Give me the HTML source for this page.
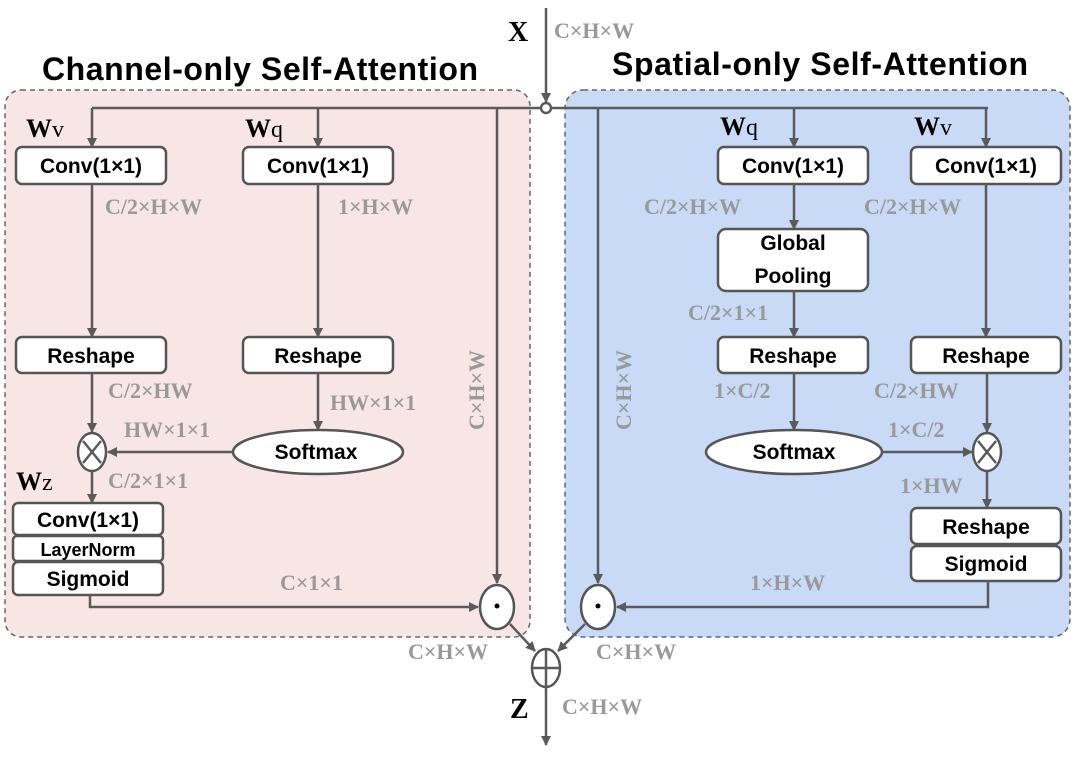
<!DOCTYPE html>
<html><head><meta charset="utf-8"><style>
html,body{margin:0;padding:0;background:#fff}
svg{display:block}
.box{fill:#fff;stroke:#555;stroke-width:2.5}
.bt{font-family:"Liberation Sans",sans-serif;font-weight:bold;font-size:21px;fill:#000;text-anchor:middle}
.g{font-family:"Liberation Serif",serif;font-weight:bold;font-size:22px;fill:#999}
.w{font-family:"Liberation Serif",serif;font-weight:bold;font-size:26px;fill:#000}
.ln{stroke:#5a5a5a;stroke-width:2.5;fill:none}
.t{font-family:"Liberation Sans",sans-serif;font-weight:bold;font-size:32px;fill:#000}
</style></head><body>
<svg width="1075" height="758" viewBox="0 0 1075 758">
<defs><marker id="a" markerWidth="10" markerHeight="10" refX="9" refY="5" orient="auto" markerUnits="userSpaceOnUse"><path d="M0,0 L10,5 L0,10 z" fill="#5a5a5a"/></marker></defs>
<rect x="5" y="90" width="525" height="547" rx="16" fill="#f8e6e6" stroke="#666" stroke-width="1.5" stroke-dasharray="5,4"/>
<rect x="565" y="90" width="505" height="547" rx="18" fill="#c9daf6" stroke="#666" stroke-width="1.5" stroke-dasharray="5,4"/>
<text class="t" x="42" y="80" textLength="436">Channel-only Self-Attention</text>
<text class="t" x="612" y="75" textLength="416">Spatial-only Self-Attention</text>
<text class="w" x="508" y="41" style="font-size:28px">X</text>
<text class="g" x="554" y="38">C×H×W</text>
<line class="ln" x1="546" y1="8" x2="546" y2="102" marker-end="url(#a)"/>
<line class="ln" x1="92" y1="108" x2="988" y2="108"/>
<circle cx="546" cy="108" r="5" fill="#fff" stroke="#5a5a5a" stroke-width="2.5"/>
<!-- left -->
<line class="ln" x1="92" y1="108" x2="92" y2="147" marker-end="url(#a)"/>
<line class="ln" x1="318" y1="108" x2="318" y2="147" marker-end="url(#a)"/>
<text class="w" x="26" y="137">W<tspan style="font-weight:normal;font-size:24px">v</tspan></text>
<text class="w" x="245" y="137">W<tspan style="font-weight:normal;font-size:24px">q</tspan></text>
<rect class="box" x="16" y="147" width="150" height="37" rx="6"/><text class="bt" x="91" y="173">Conv(1×1)</text>
<rect class="box" x="243" y="147" width="150" height="37" rx="6"/><text class="bt" x="318" y="173">Conv(1×1)</text>
<line class="ln" x1="92" y1="184" x2="92" y2="337" marker-end="url(#a)"/>
<line class="ln" x1="318" y1="184" x2="318" y2="337" marker-end="url(#a)"/>
<text class="g" x="105" y="214">C/2×H×W</text>
<text class="g" x="338" y="214">1×H×W</text>
<rect class="box" x="16" y="337" width="150" height="36" rx="6"/><text class="bt" x="91" y="363">Reshape</text>
<rect class="box" x="243" y="337" width="150" height="36" rx="6"/><text class="bt" x="318" y="363">Reshape</text>
<text class="g" x="108" y="398">C/2×HW</text>
<text class="g" x="330" y="410">HW×1×1</text>
<line class="ln" x1="92" y1="373" x2="92" y2="432" marker-end="url(#a)"/>
<line class="ln" x1="318" y1="373" x2="318" y2="430" marker-end="url(#a)"/>
<ellipse cx="318" cy="452" rx="85" ry="22" class="box"/><text class="bt" x="316" y="459">Softmax</text>
<line class="ln" x1="233" y1="452" x2="108" y2="452" marker-end="url(#a)"/>
<text class="g" x="124" y="437">HW×1×1</text>
<ellipse cx="92" cy="452" rx="14" ry="19" class="box"/>
<line class="ln" x1="83" y1="441" x2="101" y2="463"/><line class="ln" x1="101" y1="441" x2="83" y2="463"/>
<line class="ln" x1="92" y1="471" x2="92" y2="503" marker-end="url(#a)"/>
<text class="w" x="16" y="490">W<tspan style="font-weight:normal;font-size:24px">z</tspan></text>
<text class="g" x="108" y="488">C/2×1×1</text>
<rect class="box" x="13" y="503" width="150" height="32" rx="5"/><text class="bt" x="88" y="527">Conv(1×1)</text>
<rect class="box" x="13" y="536" width="150" height="25" rx="4"/><text class="bt" x="88" y="556" style="font-size:18px">LayerNorm</text>
<rect class="box" x="13" y="562" width="150" height="33" rx="5"/><text class="bt" x="88" y="586">Sigmoid</text>
<polyline class="ln" points="90,595 90,607 478,607" marker-end="url(#a)"/>
<text class="g" x="280" y="590">C×1×1</text>
<line class="ln" x1="497" y1="108" x2="497" y2="583" marker-end="url(#a)"/>
<text class="g" transform="translate(484,430) rotate(-90)">C×H×W</text>
<ellipse cx="497" cy="607" rx="17" ry="22" class="box"/><circle cx="497" cy="606" r="2.5" fill="#000"/>
<!-- right -->
<line class="ln" x1="598" y1="108" x2="598" y2="583" marker-end="url(#a)"/>
<text class="g" transform="translate(631,430) rotate(-90)">C×H×W</text>
<ellipse cx="598" cy="607" rx="17" ry="22" class="box"/><circle cx="598" cy="606" r="2.5" fill="#000"/>
<line class="ln" x1="794" y1="108" x2="794" y2="147" marker-end="url(#a)"/>
<line class="ln" x1="986" y1="108" x2="986" y2="147" marker-end="url(#a)"/>
<text class="w" x="720" y="135">W<tspan style="font-weight:normal;font-size:24px">q</tspan></text>
<text class="w" x="914" y="135">W<tspan style="font-weight:normal;font-size:24px">v</tspan></text>
<rect class="box" x="718" y="147" width="150" height="37" rx="6"/><text class="bt" x="793" y="173">Conv(1×1)</text>
<rect class="box" x="911" y="147" width="150" height="37" rx="6"/><text class="bt" x="986" y="173">Conv(1×1)</text>
<text class="g" x="644" y="214">C/2×H×W</text>
<text class="g" x="864" y="214">C/2×H×W</text>
<line class="ln" x1="794" y1="184" x2="794" y2="229" marker-end="url(#a)"/>
<line class="ln" x1="986" y1="184" x2="986" y2="337" marker-end="url(#a)"/>
<rect class="box" x="718" y="229" width="150" height="62" rx="8"/><text class="bt" x="793" y="250">Global</text><text class="bt" x="793" y="283">Pooling</text>
<text class="g" x="688" y="320">C/2×1×1</text>
<line class="ln" x1="794" y1="291" x2="794" y2="337" marker-end="url(#a)"/>
<rect class="box" x="718" y="337" width="150" height="36" rx="6"/><text class="bt" x="793" y="363">Reshape</text>
<rect class="box" x="911" y="337" width="150" height="36" rx="6"/><text class="bt" x="986" y="363">Reshape</text>
<text class="g" x="714" y="398">1×C/2</text>
<text class="g" x="874" y="398">C/2×HW</text>
<line class="ln" x1="794" y1="373" x2="794" y2="430" marker-end="url(#a)"/>
<line class="ln" x1="987" y1="373" x2="987" y2="432" marker-end="url(#a)"/>
<ellipse cx="794" cy="452" rx="88" ry="22" class="box"/><text class="bt" x="794" y="459">Softmax</text>
<line class="ln" x1="882" y1="452" x2="972" y2="452" marker-end="url(#a)"/>
<text class="g" x="888" y="437">1×C/2</text>
<ellipse cx="987" cy="452" rx="14" ry="19" class="box"/>
<line class="ln" x1="978" y1="441" x2="996" y2="463"/><line class="ln" x1="996" y1="441" x2="978" y2="463"/>
<text class="g" x="900" y="493">1×HW</text>
<line class="ln" x1="987" y1="471" x2="987" y2="508" marker-end="url(#a)"/>
<rect class="box" x="911" y="508" width="150" height="36" rx="6"/><text class="bt" x="986" y="534">Reshape</text>
<rect class="box" x="911" y="546" width="150" height="35" rx="6"/><text class="bt" x="986" y="571">Sigmoid</text>
<polyline class="ln" points="988,581 988,607 617,607" marker-end="url(#a)"/>
<text class="g" x="750" y="590">1×H×W</text>
<!-- merge -->
<line class="ln" x1="510" y1="624" x2="535" y2="651" marker-end="url(#a)"/>
<line class="ln" x1="585" y1="624" x2="558" y2="651" marker-end="url(#a)"/>
<text class="g" x="408" y="659">C×H×W</text>
<text class="g" x="596" y="659">C×H×W</text>
<ellipse cx="546" cy="668" rx="14" ry="19" class="box"/>
<line class="ln" x1="532" y1="668" x2="560" y2="668"/><line class="ln" x1="546" y1="649" x2="546" y2="687"/>
<line class="ln" x1="546" y1="687" x2="546" y2="745" marker-end="url(#a)"/>
<text class="w" x="510" y="718" style="font-size:28px">Z</text>
<text class="g" x="562" y="714">C×H×W</text>
</svg>
</body></html>
